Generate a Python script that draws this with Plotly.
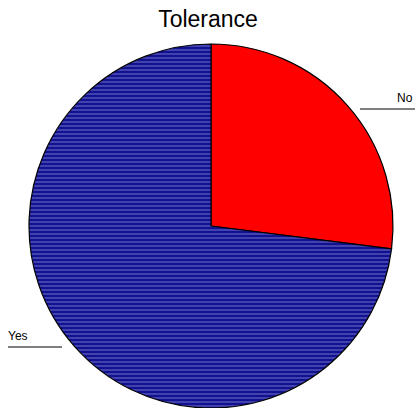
import plotly.graph_objects as go

labels = ["No", "Yes"]
values = [27, 73]
colors = ["#ff0000", "#121290"]

W, H = 415, 408

fig = go.Figure(go.Pie(
    labels=labels,
    values=values,
    sort=False,
    direction="clockwise",
    rotation=0,
    textinfo="none",
    hoverinfo="label+percent",
    marker=dict(
        colors=colors,
        line=dict(color="black", width=1.2),
        pattern=dict(shape=["", "-"], fgcolor="#5656bc", bgcolor=colors, size=4, solidity=0.35),
    ),
    domain=dict(x=[29/W, 393/W], y=[0.0, 1-44/H]),
    showlegend=False,
))

fig.update_layout(
    width=W, height=H,
    margin=dict(l=0, r=0, t=0, b=0),
    paper_bgcolor="white",
    plot_bgcolor="white",
    font=dict(family="Liberation Sans, Arial, sans-serif", color="black"),
    title=dict(text="Tolerance", x=208/W, xanchor="center", y=1-19/H, yanchor="middle",
               font=dict(size=23, color="black")),
    annotations=[
        dict(text="No", x=1.0, y=1-98/H, xref="paper", yref="paper",
             xanchor="right", yanchor="middle", showarrow=False, font=dict(size=12)),
        dict(text="Yes", x=6/W, y=1-336/H, xref="paper", yref="paper",
             xanchor="left", yanchor="middle", showarrow=False, font=dict(size=12)),
    ],
    shapes=[
        dict(type="line", xref="paper", yref="paper", x0=360/W, x1=1.0,
             y0=1-109/H, y1=1-109/H, line=dict(color="black", width=1)),
        dict(type="line", xref="paper", yref="paper", x0=8/W, x1=62/W,
             y0=1-347/H, y1=1-347/H, line=dict(color="black", width=1)),
    ],
)

fig.write_html("out.html", config={"displayModeBar": False},
               post_script="document.body.style.margin='0';document.body.style.overflow='hidden';")
